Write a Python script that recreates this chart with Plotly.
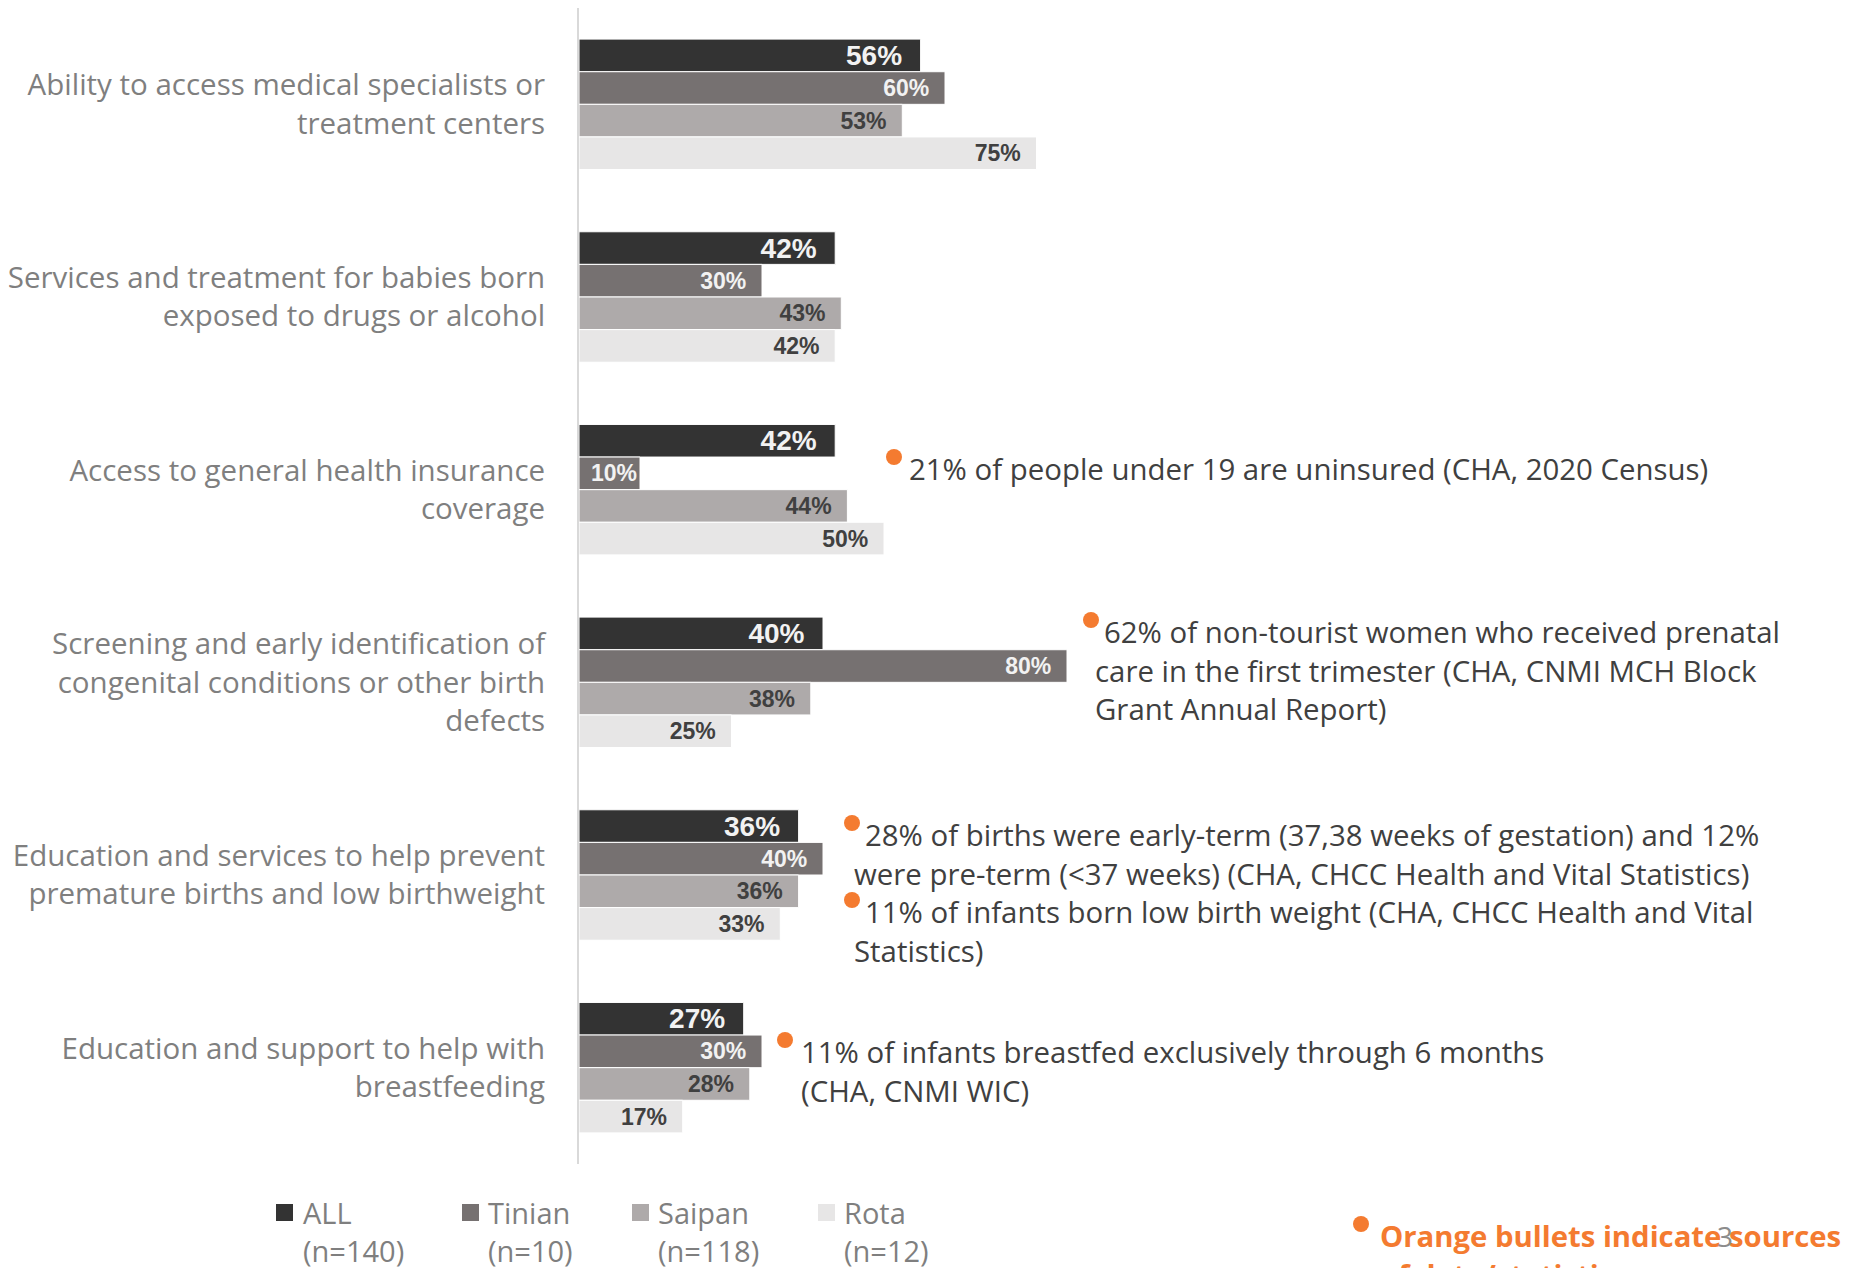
import plotly.graph_objects as go

# ---- data ----
categories = [
    "Ability to access medical specialists or<br>treatment centers",
    "Services and treatment for babies born<br>exposed to drugs or alcohol",
    "Access to general health insurance<br>coverage",
    "Screening and early identification of<br>congenital conditions or other birth<br>defects",
    "Education and services to help prevent<br>premature births and low birthweight",
    "Education and support to help with<br>breastfeeding",
]
series_names = ["ALL", "Tinian", "Saipan", "Rota"]
series_n = ["(n=140)", "(n=10)", "(n=118)", "(n=12)"]
all_vals = [56, 42, 42, 40, 36, 27]
tinian_vals = [60, 30, 10, 80, 40, 30]
saipan_vals = [53, 43, 44, 38, 36, 28]
rota_vals = [75, 42, 50, 25, 33, 17]

# supporting statistics shown next to some categories: (category index, lines, bullet flags)
notes = [
    (2, ["21% of people under 19 are uninsured (CHA, 2020 Census)"], [True]),
    (3, ["62% of non-tourist women who received prenatal",
         "care in the first trimester (CHA, CNMI MCH Block",
         "Grant Annual Report)"], [True, False, False]),
    (4, ["28% of births were early-term (37,38 weeks of gestation) and 12%",
         "were pre-term (<37 weeks) (CHA, CHCC Health and Vital Statistics)",
         "11% of infants born low birth weight (CHA, CHCC Health and Vital",
         "Statistics)"], [True, False, True, False]),
    (5, ["11% of infants breastfed exclusively through 6 months",
         "(CHA, CNMI WIC)"], [True, False]),
]
footer_lines = ["Orange bullets indicate sources", "of data/statistics"]
slide_number = "3"

# ---- styling ----
W, H = 1860, 1268
L, R, T, B = 579, 0, 8, 104
PW, PH = W - L - R, H - T - B
PX_PER_PCT = 6.1
X_MAX = PW / PX_PER_PCT

bar_colors = ["#333333", "#767171", "#AEAAAA", "#E7E6E6"]
label_colors = ["#F2F2F2", "#F2F2F2", "#404040", "#404040"]
label_sizes = [28, 23, 23, 23]
ORANGE = "#F47B30"
TEXT_DARK = "#404040"
TEXT_GRAY = "#7F7F7F"
FONT = "Open Sans"
LABEL_FONT = "Liberation Sans"
NOTE_SIZE = 29.4


def px(x):
    return (x - L) / PW


def py(y):
    return 1 - (y - T) / PH


def bar_label(v, size):
    # keep a little breathing room at the bar end unless the bar is too short
    pad = "\u00a0\u00a0" if v * PX_PER_PCT > 3.4 * size else ""
    return f"{v}%{pad}"


fig = go.Figure()
for name, vals, color, lcol, lsize in zip(
        series_names, [all_vals, tinian_vals, saipan_vals, rota_vals],
        bar_colors, label_colors, label_sizes):
    fig.add_trace(go.Bar(
        name=name,
        y=categories,
        x=vals,
        orientation="h",
        marker=dict(color=color, line=dict(color="white", width=1)),
        text=[bar_label(v, lsize) for v in vals],
        textposition="inside",
        insidetextanchor="end",
        textangle=0,
        constraintext="none",
        textfont=dict(family=LABEL_FONT, size=lsize, color=lcol, weight="bold"),
        showlegend=False,
        hoverinfo="skip",
    ))

annotations = []
shapes = []


def bullet(cx, cy, d=16):
    shapes.append(dict(
        type="circle", xref="paper", yref="paper",
        x0=px(cx - d / 2), x1=px(cx + d / 2),
        y0=py(cy + d / 2), y1=py(cy - d / 2),
        fillcolor=ORANGE, line=dict(width=0), layer="above",
    ))


def text(x, y, s, color=TEXT_DARK, size=NOTE_SIZE, bold=False, anchor="left"):
    annotations.append(dict(
        xref="paper", yref="paper", x=px(x), y=py(y),
        xanchor=anchor, yanchor="middle", text=s, showarrow=False,
        font=dict(family=FONT, size=size, color=color,
                  weight="bold" if bold else "normal"),
    ))


# note blocks: bullet x, first line centre y, first-line x, following-lines x
note_layout = {
    2: (894, 469, 907, 907),
    3: (1091, 632, 1102, 1093),
    4: (852, 835, 863, 852),
    5: (785, 1052, 799, 799),
}
LINE = 38.5
for idx, lines, flags in notes:
    bx, y0, x_first, x_rest = note_layout[idx]
    for k, (line, has_bullet) in enumerate(zip(lines, flags)):
        yy = y0 + k * LINE
        if has_bullet:
            bullet(bx, yy - 12)
            text(x_first, yy, line)
        else:
            text(x_rest, yy, line)

# legend
legend_sq = [276, 462, 632, 818]
legend_tx = [301, 486, 656, 842]
for name, n, color, sx, tx in zip(series_names, series_n, bar_colors, legend_sq, legend_tx):
    shapes.append(dict(
        type="rect", xref="paper", yref="paper",
        x0=px(sx), x1=px(sx + 17), y0=py(1221), y1=py(1204),
        fillcolor=color, line=dict(width=0),
    ))
    text(tx, 1212, name, color=TEXT_GRAY, size=29)
    text(tx, 1250, n, color=TEXT_GRAY, size=29)

# footer
bullet(1361, 1224)
text(1378, 1236, footer_lines[0], color=ORANGE, size=29.3, bold=True)
text(1378, 1275, footer_lines[1], color=ORANGE, size=29.3, bold=True)
text(1725, 1236, slide_number, color="#8C8C8C", size=28, anchor="center")

fig.update_layout(
    width=W, height=H,
    margin=dict(l=L, r=R, t=T, b=B, autoexpand=False),
    paper_bgcolor="white", plot_bgcolor="white",
    barmode="group", bargap=0.323, bargroupgap=0,
    xaxis=dict(range=[0, X_MAX], visible=False, fixedrange=True),
    yaxis=dict(
        autorange="reversed", showgrid=False, zeroline=False,
        showline=True, linecolor="#D9D9D9", linewidth=2,
        ticks="outside", ticklen=26, tickcolor="rgba(0,0,0,0)",
        tickfont=dict(family=FONT, size=29.5, color=TEXT_GRAY),
        automargin=False,
    ),
    annotations=annotations,
    shapes=shapes,
)

fig.write_html("out.html")
